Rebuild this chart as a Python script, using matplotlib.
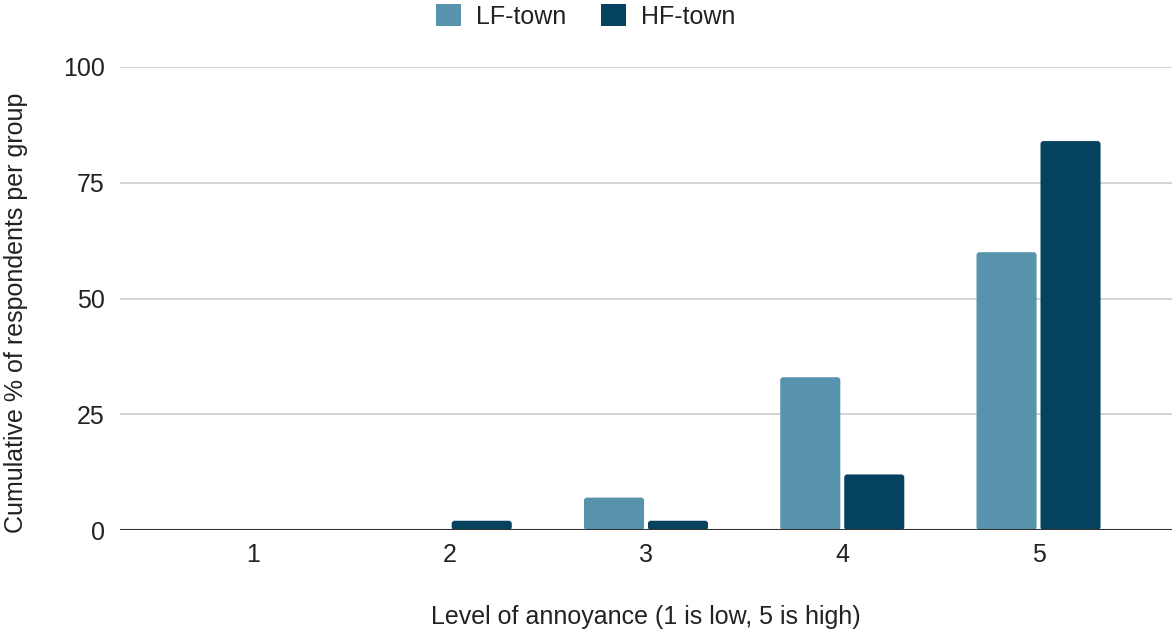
import numpy as np
import matplotlib.pyplot as plt
from matplotlib.patches import FancyBboxPatch, Patch

plt.rcParams['font.family'] = ['Liberation Sans', 'DejaVu Sans']

# data
levels = ['1', '2', '3', '4', '5']
lf_town = [0, 0, 7, 33, 60]
hf_town = [0, 2, 2, 12, 84]
series_names = ['LF-town', 'HF-town']
colors = ['#5793ad', '#04425f']

fig = plt.figure(figsize=(11.72, 6.34), dpi=100)
ax = fig.add_axes([120 / 1172, 104 / 634, 1 - 120 / 1172, 463 / 634])

x = np.arange(1, len(levels) + 1)
w = 0.306
gap = 0.01
bars_lf = ax.bar(x - w / 2 - gap, lf_town, w, color=colors[0], zorder=3)
bars_hf = ax.bar(x + w / 2 + gap, hf_town, w, color=colors[1], zorder=3)

# swap plain rectangles for slightly rounded ones
for bars, c in [(bars_lf, colors[0]), (bars_hf, colors[1])]:
    for r in bars:
        h = r.get_height()
        r.set_visible(False)
        if h <= 0:
            continue
        p = FancyBboxPatch((r.get_x(), 0), r.get_width(), h,
                           boxstyle='round,pad=0,rounding_size=0.015',
                           mutation_aspect=43, facecolor=c, edgecolor='none', zorder=3)
        ax.add_patch(p)

ax.set_xlim(0.32, 5.68)
ax.set_ylim(0, 100)
ax.set_yticks([0, 25, 50, 75, 100])
ax.set_xticks(x)
ax.set_xticklabels(levels)
ax.grid(axis='y', color='#cccccc', linewidth=1.2, zorder=0)
ax.axhline(0, color='#333333', linewidth=1.5, zorder=4)
for s in ax.spines.values():
    s.set_visible(False)
ax.tick_params(length=0, labelsize=18, colors='#222222')
ax.tick_params(axis='x', pad=9)
ax.tick_params(axis='y', pad=11)

ax.set_xlabel('Level of annoyance (1 is low, 5 is high)', fontsize=18, color='#222222', labelpad=28)
ax.set_ylabel('Cumulative % of respondents per group', fontsize=18, color='#222222')
ax.yaxis.set_label_coords(-0.087, 0.47)

handles = [Patch(facecolor=c, edgecolor='none') for c in colors]
fig.legend(handles, series_names, loc='upper center', bbox_to_anchor=(0.5, 1.029), ncol=2,
           frameon=False, fontsize=18, handlelength=1.0, handleheight=1.0,
           handletextpad=0.6, columnspacing=1.4, labelcolor='#222222')

fig.savefig('out.png', dpi=100)
